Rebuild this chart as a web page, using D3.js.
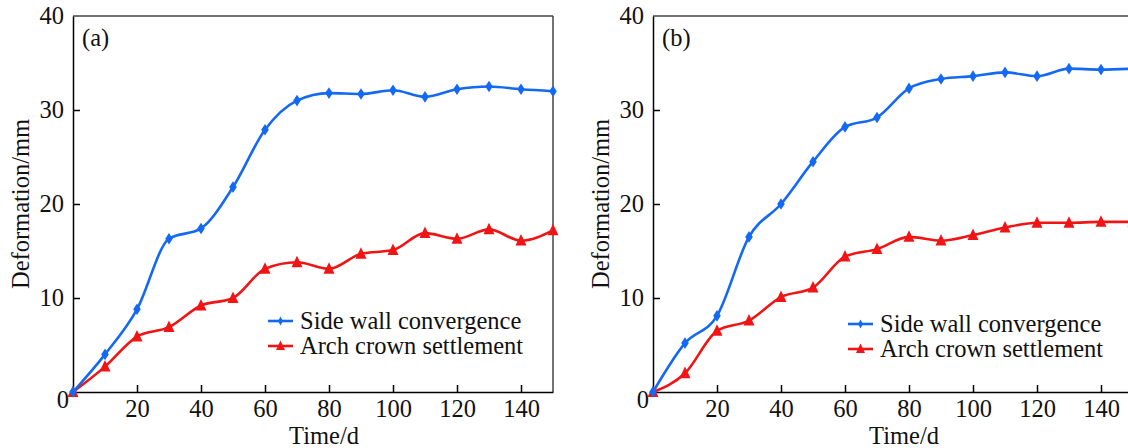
<!DOCTYPE html>
<html>
<head>
<meta charset="utf-8">
<script src="https://cdn.jsdelivr.net/npm/d3@7"></script>
<style>
  body { margin: 0; background: #fff; }
  svg text { font-family: "Liberation Serif", "Times New Roman", serif; fill: #111; }
</style>
</head>
<body>
<svg id="chart" width="1128" height="448"></svg>
<script>
// time axis, days
var days = [0, 10, 20, 30, 40, 50, 60, 70, 80, 90, 100, 110, 120, 130, 140, 150];

// panel (a)
var sideWallA = [0, 4.0, 8.8, 16.3, 17.4, 21.8, 27.9, 31.0, 31.8, 31.7, 32.1, 31.4, 32.2, 32.5, 32.2, 32.0];
var archCrownA = [0, 2.7, 5.9, 6.9, 9.2, 10.0, 13.1, 13.8, 13.1, 14.7, 15.1, 16.9, 16.3, 17.3, 16.1, 17.2];

// panel (b)
var sideWallB = [0, 5.2, 8.1, 16.5, 20.0, 24.5, 28.2, 29.2, 32.3, 33.3, 33.6, 34.0, 33.6, 34.4, 34.3, 34.4];
var archCrownB = [0, 2.0, 6.5, 7.6, 10.1, 11.1, 14.4, 15.2, 16.5, 16.1, 16.7, 17.5, 18.0, 18.0, 18.1, 18.1];

var xTicks = [20, 40, 60, 80, 100, 120, 140];
var yTicks = [10, 20, 30];
var yLabels = [0, 10, 20, 30, 40];

var seriesNames = ["Side wall convergence", "Arch crown settlement"];
var blue = "#1469f2";
var red = "#f01414";

var svg = d3.select("#chart");
var fontSize = 24.5;

function drawPanel(left, tag, sideWall, archCrown, legendX) {
    var top = 16, bottom = 392, right = left + 480;

    var x = d3.scaleLinear().domain([0, 150]).range([left, right]);
    var y = d3.scaleLinear().domain([0, 40]).range([bottom, top]);

    var g = svg.append("g");

    //frame: top and right in grey, axes in black
    g.append("line").attr("x1", left).attr("x2", right).attr("y1", top).attr("y2", top)
        .style("stroke", "#444").style("stroke-width", 1.5);
    g.append("line").attr("x1", right).attr("x2", right).attr("y1", top).attr("y2", bottom)
        .style("stroke", "#444").style("stroke-width", 1.5);

    //x axis with inward ticks
    var xAxis = d3.axisBottom(x).tickValues(xTicks).tickSizeInner(-7).tickSizeOuter(0).tickPadding(8);
    var gx = g.append("g").attr("transform", "translate(0," + bottom + ")").call(xAxis);
    gx.select(".domain").style("stroke", "#000").style("stroke-width", 1.5);
    gx.selectAll(".tick line").style("stroke", "#000").style("stroke-width", 1.5);
    gx.selectAll(".tick text").style("font-size", fontSize + "px")
        .style("font-family", "Liberation Serif").attr("fill", "#111");

    //y axis with inward ticks, labels drawn separately
    var yAxis = d3.axisLeft(y).tickValues(yTicks).tickSizeInner(-7).tickSizeOuter(0).tickFormat("");
    var gy = g.append("g").attr("transform", "translate(" + left + ",0)").call(yAxis);
    gy.select(".domain").style("stroke", "#000").style("stroke-width", 1.5);
    gy.selectAll(".tick line").style("stroke", "#000").style("stroke-width", 1.5);

    g.selectAll(".ylab")
        .data(yLabels)
        .enter().append("text")
        .attr("class", "ylab")
        .attr("x", function(d) { return d == 0 ? left - 4 : left - 9; })
        .attr("y", function(d) { return d == 0 ? y(d) + 16 : y(d) + 8; })
        .attr("text-anchor", "end")
        .style("font-size", fontSize + "px")
        .text(function(d) { return d; });

    //panel tag
    g.append("text").attr("x", left + 9).attr("y", top + 30)
        .style("font-size", fontSize + "px").text(tag);

    //axis titles
    g.append("text").attr("x", (left + right) / 2 + 11).attr("y", 444)
        .attr("text-anchor", "middle").style("font-size", fontSize + "px").text("Time/d");
    g.append("text")
        .attr("transform", "translate(" + (left - 44) + "," + ((top + bottom) / 2) + ") rotate(-90)")
        .attr("text-anchor", "middle").style("font-size", fontSize + "px").text("Deformation/mm");

    var line = d3.line()
        .x(function(d, i) { return x(days[i]); })
        .y(function(d) { return y(d); })
        .curve(d3.curveMonotoneX);

    var diamond = function(cx, cy, w, h) {
        return "M" + cx + "," + (cy - h) + "L" + (cx + w) + "," + cy + "L" + cx + "," + (cy + h) + "L" + (cx - w) + "," + cy + "Z";
    };
    var triangle = function(cx, cy, w, h) {
        return "M" + cx + "," + (cy - h * 0.6) + "L" + (cx + w) + "," + (cy + h * 0.45) + "L" + (cx - w) + "," + (cy + h * 0.45) + "Z";
    };

    //red series first so blue sits on top
    g.append("path").datum(archCrown).attr("d", line)
        .style("fill", "none").style("stroke", red).style("stroke-width", 2.6);
    g.append("g").selectAll("path")
        .data(archCrown)
        .enter().append("path")
        .attr("d", function(d, i) { return triangle(x(days[i]), y(d), 5.5, 11); })
        .style("fill", red);

    g.append("path").datum(sideWall).attr("d", line)
        .style("fill", "none").style("stroke", blue).style("stroke-width", 2.6);
    g.append("g").selectAll("path")
        .data(sideWall)
        .enter().append("path")
        .attr("d", function(d, i) { return diamond(x(days[i]), y(d), 3.8, 5.8); })
        .style("fill", blue);

    //legend
    var legendY = [321, 346];
    var leg = g.append("g");
    seriesNames.forEach(function(name, k) {
        var c = k == 0 ? blue : red;
        var ly = legendY[k] + (tag == "(b)" ? 3 : 0);
        leg.append("line").attr("x1", legendX).attr("x2", legendX + 25).attr("y1", ly).attr("y2", ly)
            .style("stroke", c).style("stroke-width", 2.6);
        leg.append("path")
            .attr("d", k == 0 ? diamond(legendX + 12.5, ly, 2.5, 4.5) : triangle(legendX + 12.5, ly, 4.5, 9))
            .style("fill", c);
        leg.append("text").attr("x", legendX + 32).attr("y", ly + 8)
            .style("font-size", fontSize + "px").text(name);
    });
}

drawPanel(73, "(a)", sideWallA, archCrownA, 268);
drawPanel(653, "(b)", sideWallB, archCrownB, 848);
</script>
</body>
</html>
